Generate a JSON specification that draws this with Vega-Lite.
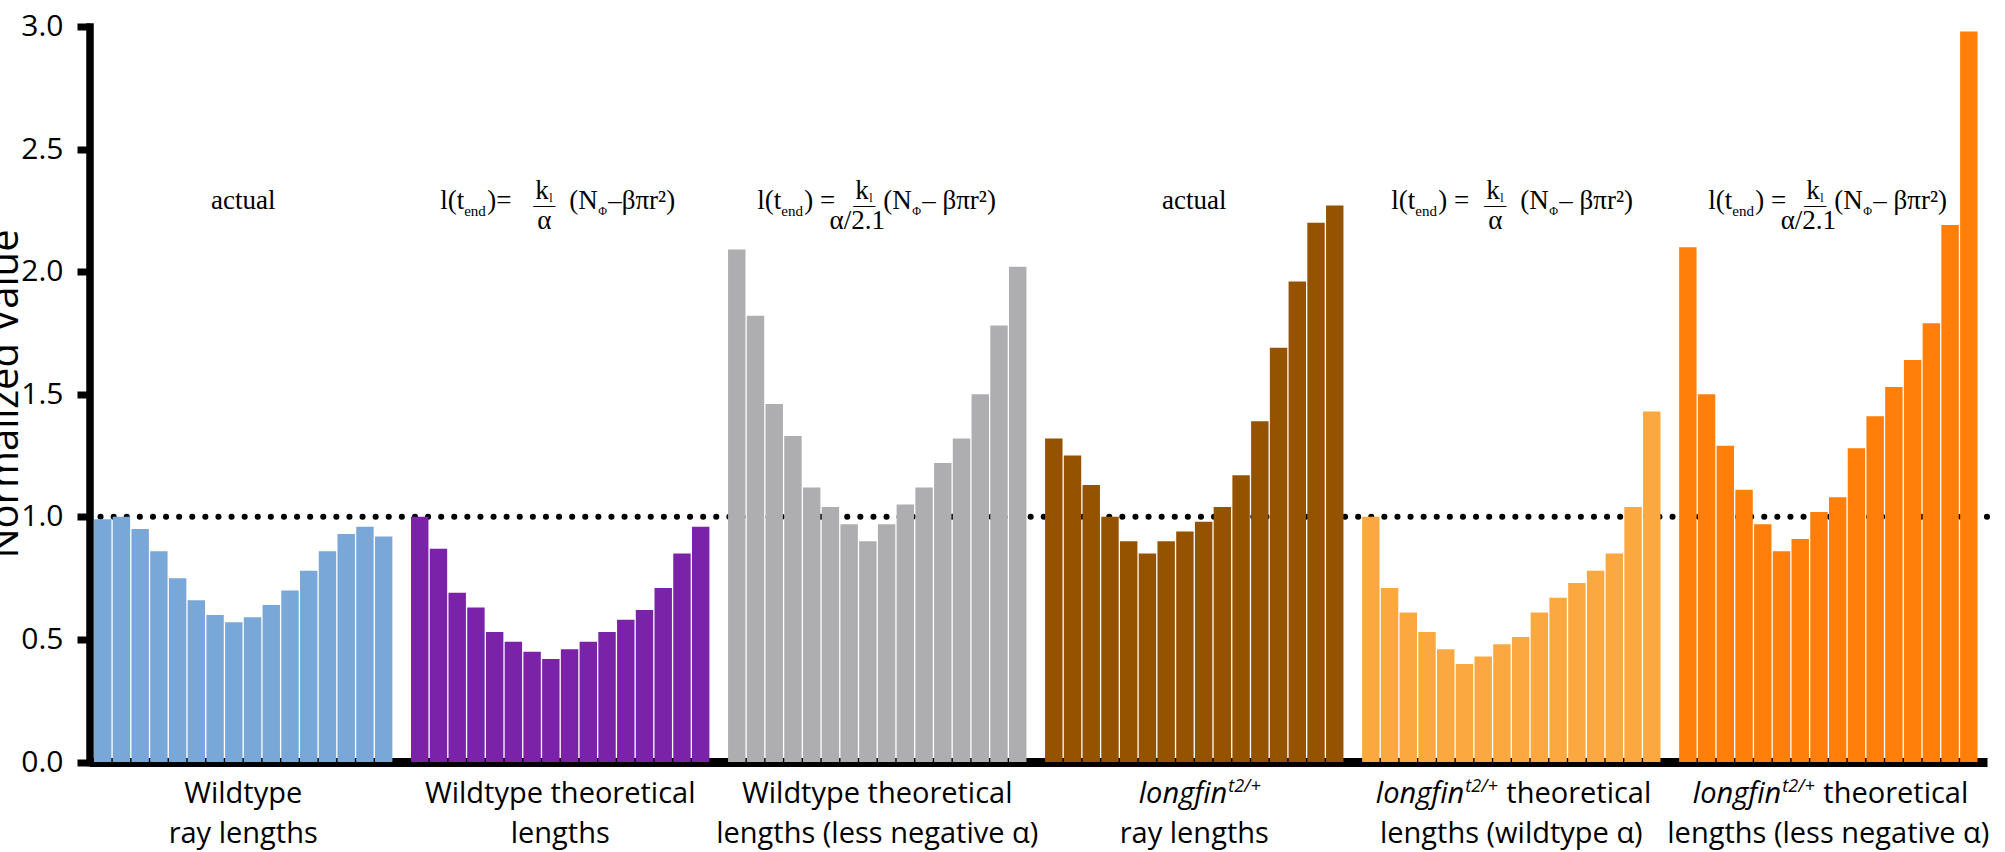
{
  "$schema": "https://vega.github.io/schema/vega-lite/v6.json",
  "width": 1897.5,
  "height": 735.5,
  "autosize": {"type": "none"},
  "padding": {"left": 89.5, "top": 26.5, "right": 18, "bottom": 90},
  "background": "white",
  "config": {"view": {"stroke": null}, "font": "Open Sans"},
  "datasets": {
    "bars": [
      {"group": "G1", "ray": 1, "value": 0.99}, {"group": "G1", "ray": 2, "value": 1.0}, {"group": "G1", "ray": 3, "value": 0.95}, {"group": "G1", "ray": 4, "value": 0.86},
      {"group": "G1", "ray": 5, "value": 0.75}, {"group": "G1", "ray": 6, "value": 0.66}, {"group": "G1", "ray": 7, "value": 0.6}, {"group": "G1", "ray": 8, "value": 0.57},
      {"group": "G1", "ray": 9, "value": 0.59}, {"group": "G1", "ray": 10, "value": 0.64}, {"group": "G1", "ray": 11, "value": 0.7}, {"group": "G1", "ray": 12, "value": 0.78},
      {"group": "G1", "ray": 13, "value": 0.86}, {"group": "G1", "ray": 14, "value": 0.93}, {"group": "G1", "ray": 15, "value": 0.96}, {"group": "G1", "ray": 16, "value": 0.92},
      {"group": "G2", "ray": 1, "value": 1.0}, {"group": "G2", "ray": 2, "value": 0.87}, {"group": "G2", "ray": 3, "value": 0.69}, {"group": "G2", "ray": 4, "value": 0.63},
      {"group": "G2", "ray": 5, "value": 0.53}, {"group": "G2", "ray": 6, "value": 0.49}, {"group": "G2", "ray": 7, "value": 0.45}, {"group": "G2", "ray": 8, "value": 0.42},
      {"group": "G2", "ray": 9, "value": 0.46}, {"group": "G2", "ray": 10, "value": 0.49}, {"group": "G2", "ray": 11, "value": 0.53}, {"group": "G2", "ray": 12, "value": 0.58},
      {"group": "G2", "ray": 13, "value": 0.62}, {"group": "G2", "ray": 14, "value": 0.71}, {"group": "G2", "ray": 15, "value": 0.85}, {"group": "G2", "ray": 16, "value": 0.96},
      {"group": "G3", "ray": 1, "value": 2.09}, {"group": "G3", "ray": 2, "value": 1.82}, {"group": "G3", "ray": 3, "value": 1.46}, {"group": "G3", "ray": 4, "value": 1.33},
      {"group": "G3", "ray": 5, "value": 1.12}, {"group": "G3", "ray": 6, "value": 1.04}, {"group": "G3", "ray": 7, "value": 0.97}, {"group": "G3", "ray": 8, "value": 0.9},
      {"group": "G3", "ray": 9, "value": 0.97}, {"group": "G3", "ray": 10, "value": 1.05}, {"group": "G3", "ray": 11, "value": 1.12}, {"group": "G3", "ray": 12, "value": 1.22},
      {"group": "G3", "ray": 13, "value": 1.32}, {"group": "G3", "ray": 14, "value": 1.5}, {"group": "G3", "ray": 15, "value": 1.78}, {"group": "G3", "ray": 16, "value": 2.02},
      {"group": "G4", "ray": 1, "value": 1.32}, {"group": "G4", "ray": 2, "value": 1.25}, {"group": "G4", "ray": 3, "value": 1.13}, {"group": "G4", "ray": 4, "value": 1.0},
      {"group": "G4", "ray": 5, "value": 0.9}, {"group": "G4", "ray": 6, "value": 0.85}, {"group": "G4", "ray": 7, "value": 0.9}, {"group": "G4", "ray": 8, "value": 0.94},
      {"group": "G4", "ray": 9, "value": 0.98}, {"group": "G4", "ray": 10, "value": 1.04}, {"group": "G4", "ray": 11, "value": 1.17}, {"group": "G4", "ray": 12, "value": 1.39},
      {"group": "G4", "ray": 13, "value": 1.69}, {"group": "G4", "ray": 14, "value": 1.96}, {"group": "G4", "ray": 15, "value": 2.2}, {"group": "G4", "ray": 16, "value": 2.27},
      {"group": "G5", "ray": 1, "value": 1.0}, {"group": "G5", "ray": 2, "value": 0.71}, {"group": "G5", "ray": 3, "value": 0.61}, {"group": "G5", "ray": 4, "value": 0.53},
      {"group": "G5", "ray": 5, "value": 0.46}, {"group": "G5", "ray": 6, "value": 0.4}, {"group": "G5", "ray": 7, "value": 0.43}, {"group": "G5", "ray": 8, "value": 0.48},
      {"group": "G5", "ray": 9, "value": 0.51}, {"group": "G5", "ray": 10, "value": 0.61}, {"group": "G5", "ray": 11, "value": 0.67}, {"group": "G5", "ray": 12, "value": 0.73},
      {"group": "G5", "ray": 13, "value": 0.78}, {"group": "G5", "ray": 14, "value": 0.85}, {"group": "G5", "ray": 15, "value": 1.04}, {"group": "G5", "ray": 16, "value": 1.43},
      {"group": "G6", "ray": 1, "value": 2.1}, {"group": "G6", "ray": 2, "value": 1.5}, {"group": "G6", "ray": 3, "value": 1.29}, {"group": "G6", "ray": 4, "value": 1.11},
      {"group": "G6", "ray": 5, "value": 0.97}, {"group": "G6", "ray": 6, "value": 0.86}, {"group": "G6", "ray": 7, "value": 0.91}, {"group": "G6", "ray": 8, "value": 1.02},
      {"group": "G6", "ray": 9, "value": 1.08}, {"group": "G6", "ray": 10, "value": 1.28}, {"group": "G6", "ray": 11, "value": 1.41}, {"group": "G6", "ray": 12, "value": 1.53},
      {"group": "G6", "ray": 13, "value": 1.64}, {"group": "G6", "ray": 14, "value": 1.79}, {"group": "G6", "ray": 15, "value": 2.19}, {"group": "G6", "ray": 16, "value": 2.98}
    ],
    "texts": [
      {"group": "G1", "piece": "actual", "label": "actual"},
      {"group": "G4", "piece": "actual", "label": "actual"},
      {"group": "G2", "piece": "head", "label": "l(t"},
      {"group": "G3", "piece": "head", "label": "l(t"},
      {"group": "G5", "piece": "head", "label": "l(t"},
      {"group": "G6", "piece": "head", "label": "l(t"},
      {"group": "G2", "piece": "subend", "label": "end"},
      {"group": "G3", "piece": "subend", "label": "end"},
      {"group": "G5", "piece": "subend", "label": "end"},
      {"group": "G6", "piece": "subend", "label": "end"},
      {"group": "G2", "piece": "close", "label": ")="},
      {"group": "G3", "piece": "close", "label": ") ="},
      {"group": "G5", "piece": "close", "label": ") ="},
      {"group": "G6", "piece": "close", "label": ") ="},
      {"group": "G2", "piece": "numA", "label": "k"},
      {"group": "G5", "piece": "numA", "label": "k"},
      {"group": "G3", "piece": "numB", "label": "k"},
      {"group": "G6", "piece": "numB", "label": "k"},
      {"group": "G2", "piece": "numsubA", "label": "l"},
      {"group": "G5", "piece": "numsubA", "label": "l"},
      {"group": "G3", "piece": "numsubB", "label": "l"},
      {"group": "G6", "piece": "numsubB", "label": "l"},
      {"group": "G2", "piece": "fracA", "label": "—"},
      {"group": "G5", "piece": "fracA", "label": "—"},
      {"group": "G3", "piece": "fracB", "label": "—"},
      {"group": "G6", "piece": "fracB", "label": "—"},
      {"group": "G2", "piece": "denA", "label": "α"},
      {"group": "G5", "piece": "denA", "label": "α"},
      {"group": "G3", "piece": "denB", "label": "α/2.1"},
      {"group": "G6", "piece": "denB", "label": "α/2.1"},
      {"group": "G2", "piece": "openA", "label": "(N"},
      {"group": "G5", "piece": "openA", "label": "(N"},
      {"group": "G3", "piece": "openB", "label": "(N"},
      {"group": "G6", "piece": "openB", "label": "(N"},
      {"group": "G2", "piece": "phiA", "label": "Φ"},
      {"group": "G5", "piece": "phiA", "label": "Φ"},
      {"group": "G3", "piece": "phiB", "label": "Φ"},
      {"group": "G6", "piece": "phiB", "label": "Φ"},
      {"group": "G2", "piece": "tailA", "label": "–βπr²)"},
      {"group": "G5", "piece": "tailA", "label": " – βπr²)"},
      {"group": "G3", "piece": "tailB", "label": " – βπr²)"},
      {"group": "G6", "piece": "tailB", "label": " – βπr²)"},
      {"group": "G1", "piece": "line1", "label": "Wildtype"},
      {"group": "G2", "piece": "line1", "label": "Wildtype theoretical"},
      {"group": "G3", "piece": "line1", "label": "Wildtype theoretical"},
      {"group": "G1", "piece": "line2", "label": "ray lengths"},
      {"group": "G2", "piece": "line2", "label": "lengths"},
      {"group": "G3", "piece": "line2", "label": "lengths (less negative α)"},
      {"group": "G4", "piece": "line2", "label": "ray lengths"},
      {"group": "G5", "piece": "line2", "label": "lengths (wildtype α)"},
      {"group": "G6", "piece": "line2", "label": "lengths (less negative α)"},
      {"group": "G4", "piece": "lf4", "label": "longfin"},
      {"group": "G4", "piece": "sup4", "label": "t2/+"},
      {"group": "G5", "piece": "lf56", "label": "longfin"},
      {"group": "G6", "piece": "lf56", "label": "longfin"},
      {"group": "G5", "piece": "sup56", "label": "t2/+"},
      {"group": "G6", "piece": "sup56", "label": "t2/+"},
      {"group": "G5", "piece": "theo56", "label": "theoretical"},
      {"group": "G6", "piece": "theo56", "label": "theoretical"}
    ]
  },
  "layer": [
    {
      "data": {"values": [{"reference": "normal length"}]},
      "mark": {"type": "rule", "color": "black", "strokeWidth": 6, "strokeCap": "round", "strokeDash": [0.1, 13]},
      "encoding": {"y": {"datum": 1, "type": "quantitative", "scale": {"domain": [0, 3], "nice": false}}}
    },
    {
      "encoding": {
        "x": {
          "field": "group", "type": "nominal",
          "scale": {"domain": ["G1", "G2", "G3", "G4", "G5", "G6"], "paddingInner": 0.0588235, "paddingOuter": 0.02202, "align": 0.3214},
          "axis": {"title": null, "labels": false, "ticks": false, "domainColor": "black", "domainWidth": 9, "domainCap": "butt"}
        }
      },
      "layer": [
        {
          "data": {"name": "bars"},
          "mark": {"type": "bar"},
          "encoding": {
            "xOffset": {"field": "ray", "type": "ordinal", "scale": {"paddingInner": 0.07, "paddingOuter": 0}},
            "y": {
              "field": "value", "type": "quantitative",
              "scale": {"domain": [0, 3], "nice": false},
              "axis": {
                "title": "Normalized Value", "values": [0, 0.5, 1, 1.5, 2, 2.5, 3], "format": ".1f", "grid": false,
                "domainColor": "black", "domainWidth": 7.5, "domainCap": "square",
                "tickColor": "black", "tickWidth": 7, "tickSize": 12.5,
                "labelFont": "Open Sans", "labelFontSize": 30, "labelColor": "black", "labelPadding": 14,
                "titleFont": "Open Sans", "titleFontSize": 40, "titleFontWeight": "normal", "titleColor": "black",
                "titleAngle": -90, "titleX": -72, "titleY": 367, "titleAlign": "center", "titleBaseline": "alphabetic"
              }
            },
            "color": {
              "field": "group", "type": "nominal", "legend": null,
              "scale": {"domain": ["G1", "G2", "G3", "G4", "G5", "G6"], "range": ["#79A8D8", "#7A22A8", "#AEAEB1", "#955300", "#FBA840", "#FF7F0A"]}
            }
          }
        },
        {
          "data": {"name": "texts"}, "transform": [{"filter": "datum.piece === 'actual'"}],
          "mark": {"type": "text", "font": "Liberation Serif", "fontSize": 27, "align": "center", "baseline": "alphabetic", "color": "black"},
          "encoding": {"y": {"datum": 2.257}, "text": {"field": "label"}}
        },
        {
          "data": {"name": "texts"}, "transform": [{"filter": "datum.piece === 'head'"}],
          "mark": {"type": "text", "font": "Liberation Serif", "fontSize": 27, "align": "left", "baseline": "alphabetic", "dx": -120, "color": "black"},
          "encoding": {"y": {"datum": 2.257}, "text": {"field": "label"}}
        },
        {
          "data": {"name": "texts"}, "transform": [{"filter": "datum.piece === 'subend'"}],
          "mark": {"type": "text", "font": "Liberation Serif", "fontSize": 15, "align": "left", "baseline": "alphabetic", "dx": -96, "dy": 7, "color": "black"},
          "encoding": {"y": {"datum": 2.257}, "text": {"field": "label"}}
        },
        {
          "data": {"name": "texts"}, "transform": [{"filter": "datum.piece === 'close'"}],
          "mark": {"type": "text", "font": "Liberation Serif", "fontSize": 27, "align": "left", "baseline": "alphabetic", "dx": -73, "color": "black"},
          "encoding": {"y": {"datum": 2.257}, "text": {"field": "label"}}
        },
        {
          "data": {"name": "texts"}, "transform": [{"filter": "datum.piece === 'numA'"}],
          "mark": {"type": "text", "font": "Liberation Serif", "fontSize": 27, "align": "left", "baseline": "alphabetic", "dx": -25, "dy": -10, "color": "black"},
          "encoding": {"y": {"datum": 2.257}, "text": {"field": "label"}}
        },
        {
          "data": {"name": "texts"}, "transform": [{"filter": "datum.piece === 'numB'"}],
          "mark": {"type": "text", "font": "Liberation Serif", "fontSize": 27, "align": "left", "baseline": "alphabetic", "dx": -22, "dy": -10, "color": "black"},
          "encoding": {"y": {"datum": 2.257}, "text": {"field": "label"}}
        },
        {
          "data": {"name": "texts"}, "transform": [{"filter": "datum.piece === 'numsubA'"}],
          "mark": {"type": "text", "font": "Liberation Serif", "fontSize": 12, "align": "left", "baseline": "alphabetic", "dx": -11, "dy": -7, "color": "black"},
          "encoding": {"y": {"datum": 2.257}, "text": {"field": "label"}}
        },
        {
          "data": {"name": "texts"}, "transform": [{"filter": "datum.piece === 'numsubB'"}],
          "mark": {"type": "text", "font": "Liberation Serif", "fontSize": 12, "align": "left", "baseline": "alphabetic", "dx": -8, "dy": -7, "color": "black"},
          "encoding": {"y": {"datum": 2.257}, "text": {"field": "label"}}
        },
        {
          "data": {"name": "texts"}, "transform": [{"filter": "datum.piece === 'fracA'"}],
          "mark": {"type": "text", "font": "Liberation Serif", "fontSize": 22, "align": "center", "baseline": "alphabetic", "dx": -16, "dy": 3, "color": "black"},
          "encoding": {"y": {"datum": 2.257}, "text": {"field": "label"}}
        },
        {
          "data": {"name": "texts"}, "transform": [{"filter": "datum.piece === 'fracB'"}],
          "mark": {"type": "text", "font": "Liberation Serif", "fontSize": 22, "align": "center", "baseline": "alphabetic", "dx": -13, "dy": 3, "color": "black"},
          "encoding": {"y": {"datum": 2.257}, "text": {"field": "label"}}
        },
        {
          "data": {"name": "texts"}, "transform": [{"filter": "datum.piece === 'denA'"}],
          "mark": {"type": "text", "font": "Liberation Serif", "fontSize": 27, "align": "center", "baseline": "alphabetic", "dx": -16, "dy": 20, "color": "black"},
          "encoding": {"y": {"datum": 2.257}, "text": {"field": "label"}}
        },
        {
          "data": {"name": "texts"}, "transform": [{"filter": "datum.piece === 'denB'"}],
          "mark": {"type": "text", "font": "Liberation Serif", "fontSize": 27, "align": "center", "baseline": "alphabetic", "dx": -20, "dy": 20, "color": "black"},
          "encoding": {"y": {"datum": 2.257}, "text": {"field": "label"}}
        },
        {
          "data": {"name": "texts"}, "transform": [{"filter": "datum.piece === 'openA'"}],
          "mark": {"type": "text", "font": "Liberation Serif", "fontSize": 27, "align": "left", "baseline": "alphabetic", "dx": 9, "color": "black"},
          "encoding": {"y": {"datum": 2.257}, "text": {"field": "label"}}
        },
        {
          "data": {"name": "texts"}, "transform": [{"filter": "datum.piece === 'openB'"}],
          "mark": {"type": "text", "font": "Liberation Serif", "fontSize": 27, "align": "left", "baseline": "alphabetic", "dx": 6, "color": "black"},
          "encoding": {"y": {"datum": 2.257}, "text": {"field": "label"}}
        },
        {
          "data": {"name": "texts"}, "transform": [{"filter": "datum.piece === 'phiA'"}],
          "mark": {"type": "text", "font": "Liberation Serif", "fontSize": 12, "align": "left", "baseline": "alphabetic", "dx": 38, "dy": 6, "color": "black"},
          "encoding": {"y": {"datum": 2.257}, "text": {"field": "label"}}
        },
        {
          "data": {"name": "texts"}, "transform": [{"filter": "datum.piece === 'phiB'"}],
          "mark": {"type": "text", "font": "Liberation Serif", "fontSize": 12, "align": "left", "baseline": "alphabetic", "dx": 35, "dy": 6, "color": "black"},
          "encoding": {"y": {"datum": 2.257}, "text": {"field": "label"}}
        },
        {
          "data": {"name": "texts"}, "transform": [{"filter": "datum.piece === 'tailA'"}],
          "mark": {"type": "text", "font": "Liberation Serif", "fontSize": 27, "align": "left", "baseline": "alphabetic", "dx": 48, "color": "black"},
          "encoding": {"y": {"datum": 2.257}, "text": {"field": "label"}}
        },
        {
          "data": {"name": "texts"}, "transform": [{"filter": "datum.piece === 'tailB'"}],
          "mark": {"type": "text", "font": "Liberation Serif", "fontSize": 27, "align": "left", "baseline": "alphabetic", "dx": 45, "color": "black"},
          "encoding": {"y": {"datum": 2.257}, "text": {"field": "label"}}
        },
        {
          "data": {"name": "texts"}, "transform": [{"filter": "datum.piece === 'line1'"}],
          "mark": {"type": "text", "font": "Open Sans", "fontSize": 29, "align": "center", "baseline": "alphabetic", "color": "black"},
          "encoding": {"y": {"datum": -0.167}, "text": {"field": "label"}}
        },
        {
          "data": {"name": "texts"}, "transform": [{"filter": "datum.piece === 'line2'"}],
          "mark": {"type": "text", "font": "Open Sans", "fontSize": 29, "align": "center", "baseline": "alphabetic", "color": "black"},
          "encoding": {"y": {"datum": -0.331}, "text": {"field": "label"}}
        },
        {
          "data": {"name": "texts"}, "transform": [{"filter": "datum.piece === 'lf4'"}],
          "mark": {"type": "text", "font": "Open Sans", "fontSize": 29, "fontStyle": "italic", "align": "right", "baseline": "alphabetic", "dx": 33, "color": "black"},
          "encoding": {"y": {"datum": -0.167}, "text": {"field": "label"}}
        },
        {
          "data": {"name": "texts"}, "transform": [{"filter": "datum.piece === 'sup4'"}],
          "mark": {"type": "text", "font": "Open Sans", "fontSize": 18, "fontStyle": "italic", "align": "left", "baseline": "alphabetic", "dx": 34, "dy": -11, "color": "black"},
          "encoding": {"y": {"datum": -0.167}, "text": {"field": "label"}}
        },
        {
          "data": {"name": "texts"}, "transform": [{"filter": "datum.piece === 'lf56'"}],
          "mark": {"type": "text", "font": "Open Sans", "fontSize": 29, "fontStyle": "italic", "align": "right", "baseline": "alphabetic", "dx": -47, "color": "black"},
          "encoding": {"y": {"datum": -0.167}, "text": {"field": "label"}}
        },
        {
          "data": {"name": "texts"}, "transform": [{"filter": "datum.piece === 'sup56'"}],
          "mark": {"type": "text", "font": "Open Sans", "fontSize": 18, "fontStyle": "italic", "align": "left", "baseline": "alphabetic", "dx": -46, "dy": -11, "color": "black"},
          "encoding": {"y": {"datum": -0.167}, "text": {"field": "label"}}
        },
        {
          "data": {"name": "texts"}, "transform": [{"filter": "datum.piece === 'theo56'"}],
          "mark": {"type": "text", "font": "Open Sans", "fontSize": 29, "align": "left", "baseline": "alphabetic", "dx": -5, "color": "black"},
          "encoding": {"y": {"datum": -0.167}, "text": {"field": "label"}}
        }
      ]
    }
  ]
}
